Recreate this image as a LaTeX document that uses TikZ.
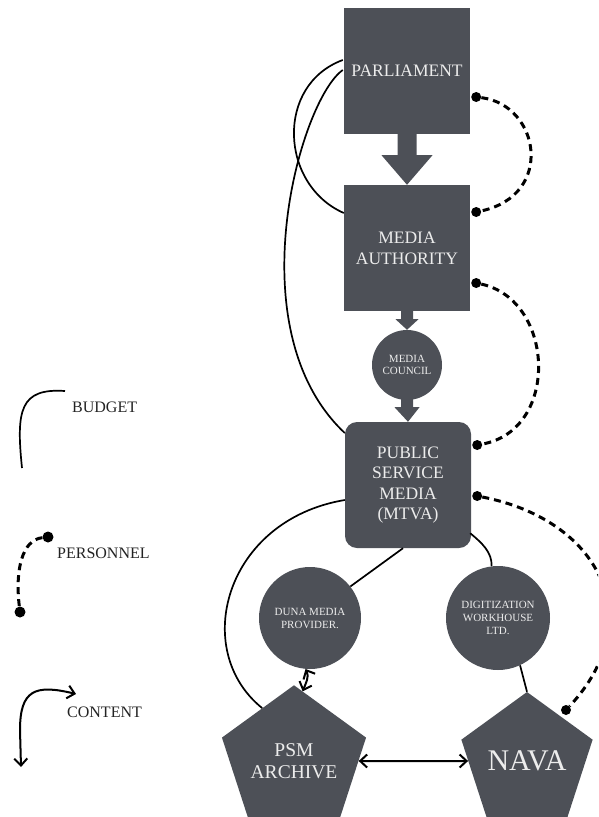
\documentclass[tikz,border=0pt]{standalone}
\usepackage{fontspec}
\setmainfont{Liberation Serif}
\usetikzlibrary{shapes.geometric,arrows.meta,calc}
\definecolor{boxc}{RGB}{77,80,87}
\definecolor{txtc}{RGB}{236,236,236}
\definecolor{legc}{RGB}{35,35,35}
\begin{document}
\begin{tikzpicture}[x=1pt,y=-1pt,
 blk/.style={fill=boxc,draw=none,text=txtc,align=center,inner sep=0pt},
 sq/.style={blk,rectangle,minimum width=126pt,minimum height=126pt},
 circ/.style={blk,circle},
 pent/.style={blk,regular polygon,regular polygon sides=5,minimum size=138pt},
 budget/.style={line width=1.7pt,black},
 pers/.style={line width=3pt,dash pattern=on 7pt off 5pt,black},
 dotc/.style={circle,fill=black,inner sep=0pt,minimum size=10pt},
 content/.style={line width=2pt,black,{Straight Barb[length=7pt,width=13pt]}-{Straight Barb[length=7pt,width=13pt]}},
 leg/.style={text=legc,font=\fontsize{16}{19}\selectfont,anchor=west,inner sep=0pt}]
\useasboundingbox (0,0) rectangle (598,817);
\clip (0,0) rectangle (598,817);

% nodes
\node[sq,font=\fontsize{17.5}{20}\selectfont] (parl) at (407,71) {PARLIAMENT};
\node[sq,font=\fontsize{17.5}{21}\selectfont] (ma) at (407,248) {MEDIA\\AUTHORITY};
\node[circ,minimum size=70pt,font=\fontsize{11}{12.5}\selectfont] (mc) at (407,365) {MEDIA\\COUNCIL};
\node[sq,rounded corners=12pt,font=\fontsize{17.5}{20.5}\selectfont] (psm) at (408,485) {PUBLIC\\SERVICE\\MEDIA\\(MTVA)};
\node[circ,minimum size=102pt,font=\fontsize{11}{13}\selectfont] (duna) at (310,618) {DUNA MEDIA\\PROVIDER.};
\node[circ,minimum size=104pt,font=\fontsize{11}{12.7}\selectfont] (dig) at (498,618) {DIGITIZATION\\WORKHOUSE\\LTD.};
\node[pent,font=\fontsize{19.5}{22}\selectfont] (arch) at (294,761) {PSM\\ARCHIVE};
\node[pent,font=\fontsize{30}{32}\selectfont] (nava) at (527,761) {NAVA};

% hierarchy arrows
\fill[boxc] ($(parl.south)+(-9.5,-1)$) -- ($(parl.south)+(9.5,-1)$) -- ($(parl.south)+(9.5,21)$) -- ($(parl.south)+(25.5,21)$) -- (ma.north) -- ($(parl.south)+(-25.5,21)$) -- ($(parl.south)+(-9.5,21)$) -- cycle;
\fill[boxc] ($(ma.south)+(-6,-1)$) -- ($(ma.south)+(6,-1)$) -- ($(ma.south)+(6,8)$) -- ($(ma.south)+(11.5,8)$) -- (mc.north) -- ($(ma.south)+(-11.5,8)$) -- ($(ma.south)+(-6,8)$) -- cycle;
\fill[boxc] ($(mc.south)+(-6,-2)$) -- ($(mc.south)+(6,-2)$) -- ($(mc.south)+(6,7)$) -- ($(mc.south)+(12.5,7)$) -- (psm.north) -- ($(mc.south)+(-12.5,7)$) -- ($(mc.south)+(-6,7)$) -- cycle;

% budget lines
\draw[budget] ($(parl.west)+(-1,-11)$) .. controls (275,85) and (280,185) .. ($(ma.west)+(0,-35)$);
\draw[budget] ($(parl.west)+(-1,-1)$) .. controls (300,100) and (235,330) .. ($(psm.west)+(0,-52)$);
\draw[budget] ($(psm.west)+(0,15)$) .. controls (225,520) and (190,650) .. ($(arch.corner 1)!0.44!(arch.corner 2)$);
\draw[budget] ($(psm.south)+(-5,0)$) -- (duna.38);
\draw[budget] ($(psm.south east)+(-1,-15)$) .. controls (482,543) and (492,552) .. (dig.97);
\draw[budget] (dig.-65) -- (nava.corner 1);

% content arrows
\draw[content] (arch.0) -- (nava.180);
\draw[content] (duna.-95) .. controls +(4,8) and +(3,-8) .. ($(arch.corner 1)!0.12!(arch.corner 5)$);

% personnel lines
\node[dotc] (d1) at ($(parl.east)+(6,26)$) {};
\node[dotc] (d2) at ($(ma.east)+(6,-36)$) {};
\node[dotc] (d3) at ($(ma.east)+(6,35)$) {};
\node[dotc] (d4) at ($(psm.east)+(6,-40)$) {};
\node[dotc] (d5) at ($(psm.east)+(6,11)$) {};
\node[dotc] (d6) at ($(nava.center)+(39,-51)$) {};
\draw[pers] (d1) .. controls (540,105) and (555,195) .. (d2);
\draw[pers] (d3) .. controls (555,300) and (560,430) .. (d4);
\draw[pers] (d5) .. controls (600,520) and (650,620) .. (d6);

% legend
\coordinate (b1) at (22,468);
\coordinate (b2) at (65,391);
\draw[budget] (b1) .. controls (16,410) and (20,388) .. (b2);
\node[leg] (lb) at (72,407) {BUDGET};

\node[dotc,minimum size=11pt] (p1) at (48,537) {};
\node[dotc,minimum size=11pt] (p2) at (20,612) {};
\draw[pers] (p1) .. controls (22,540) and (15,570) .. (p2);
\node[leg] (lp) at (57,553) {PERSONNEL};

\coordinate (c1) at (76,694);
\coordinate (c2) at (21,767);
\draw[content] (c1) .. controls (35,684) and (20,690) .. (20,730) -- (c2);
\node[leg] (lc) at (67,712.5) {CONTENT};
\end{tikzpicture}
\end{document}
